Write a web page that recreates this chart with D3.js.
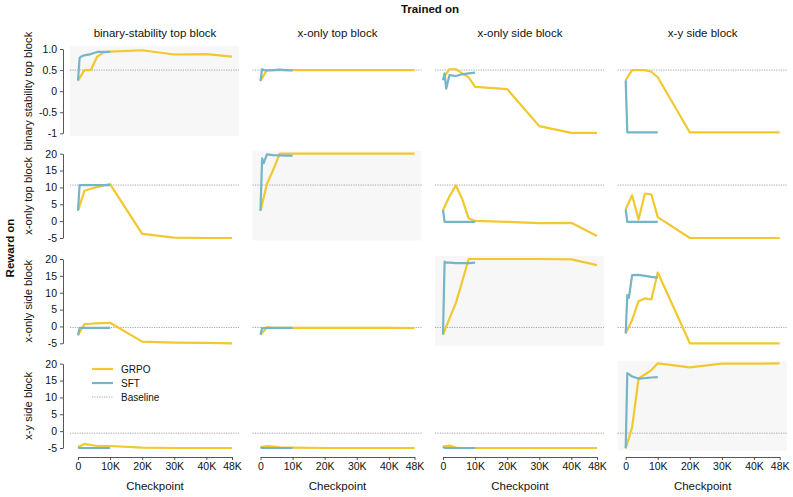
<!DOCTYPE html>
<html>
<head>
<meta charset="utf-8">
<script src="https://cdn.jsdelivr.net/npm/d3@7"></script>
<style>
  body { margin: 0; background: #fff; }
  text { font-family: "Liberation Sans", Arial, sans-serif; fill: #111; }
</style>
</head>
<body>
<script>
// columns = model trained on, rows = reward evaluated on
var trainedOn = ["binary-stability top block", "x-only top block", "x-only side block", "x-y side block"];
var rewardOn = ["binary stability top block", "x-only top block", "x-only side block", "x-y side block"];

var grpoSteps = [0, 2000, 4000, 6000, 8000, 10000, 20000, 30000, 40000, 48000];
var sftSteps = [0, 500, 1000, 2000, 4000, 6000, 8000, 10000];

var xTicks = [0, 10000, 20000, 30000, 40000, 48000];
var xTickLabels = ["0", "10K", "20K", "30K", "40K", "48K"];

var yTicksRow1 = [1, 0.5, 0, -0.5, -1];
var yTickLabelsRow1 = ["1.0", "0.5", "0", "-0.5", "-1"];
var yTicksOther = [20, 15, 10, 5, 0, -5];

var baseline = [0.5, 10.7, -0.3, -0.6];

// one entry per column (trained on)
var grpoRow1 = [
  [0.25, 0.5, 0.5, 0.82, 0.92, 0.94, 0.97, 0.87, 0.88, 0.82],
  [0.25, 0.5, 0.5, 0.5, 0.5, 0.5, 0.5, 0.5, 0.5, 0.5],
  [0.3, 0.52, 0.52, 0.42, 0.33, 0.1, 0.05, -0.83, -0.99, -0.99],
  [0.26, 0.5, 0.5, 0.5, 0.46, 0.33, -0.98, -0.98, -0.98, -0.98]
];
var sftRow1 = [
  [0.25, 0.79, 0.82, 0.85, 0.88, 0.93, 0.93, 0.93],
  [0.24, 0.52, 0.5, 0.49, 0.5, 0.51, 0.5, 0.49],
  [0.26, 0.42, 0.06, 0.38, 0.36, 0.4, 0.42, 0.44],
  [0.26, -0.98, -0.98, -0.98, -0.98, -0.98, -0.98, -0.98]
];
var grpoRow2 = [
  [3.1, 9.0, 9.6, 10.1, 10.6, 11.0, -3.8, -4.9, -5.0, -5.0],
  [3.1, 11.0, 15.3, 20.0, 20.0, 20.0, 20.0, 20.0, 20.0, 20.0],
  [3.3, 7.3, 10.6, 6.5, 0.8, 0.1, -0.2, -0.6, -0.5, -4.4],
  [3.5, 7.7, 0.5, 8.2, 7.9, 1.2, -5.0, -5.0, -5.0, -5.0]
];
var sftRow2 = [
  [3.1, 10.7, 10.7, 10.7, 10.7, 10.7, 10.7, 10.7],
  [3.1, 18.6, 17.2, 19.8, 19.6, 19.5, 19.4, 19.4],
  [3.3, -0.2, -0.2, -0.2, -0.2, -0.2, -0.2, -0.2],
  [3.5, -0.2, -0.2, -0.2, -0.2, -0.2, -0.2, -0.2]
];
var grpoRow3 = [
  [-2.6, 0.7, 0.8, 0.9, 1.0, 1.1, -4.5, -4.8, -4.9, -5.0],
  [-2.5, -0.3, -0.4, -0.4, -0.4, -0.4, -0.4, -0.4, -0.4, -0.5],
  [-2.4, 2.3, 6.9, 13.4, 20.0, 20.0, 20.0, 20.0, 19.9, 18.2],
  [-2.1, 1.9, 7.5, 8.3, 8.0, 16.0, -5.0, -5.0, -5.0, -5.0]
];
var sftRow3 = [
  [-2.6, -0.5, -0.4, -0.4, -0.4, -0.4, -0.4, -0.4],
  [-2.5, -0.5, -0.5, -0.4, -0.4, -0.4, -0.4, -0.4],
  [-2.4, 19.2, 18.9, 18.9, 18.8, 18.8, 18.8, 18.9],
  [-2.1, 9.3, 8.5, 15.2, 15.3, 15.0, 14.7, 14.5]
];
var grpoRow4 = [
  [-4.8, -3.8, -4.1, -4.4, -4.4, -4.4, -4.9, -5.0, -5.0, -5.0],
  [-4.8, -4.4, -4.6, -4.8, -4.9, -4.9, -5.0, -5.0, -5.0, -5.0],
  [-4.6, -4.3, -4.9, -5.0, -5.0, -5.0, -5.0, -5.0, -5.0, -5.0],
  [-5.1, 1.1, 15.6, 16.8, 18.1, 20.1, 18.9, 20.0, 20.0, 20.1]
];
var sftRow4 = [
  [-4.8, -5.0, -5.0, -5.0, -5.0, -5.0, -5.0, -5.0],
  [-4.8, -5.0, -5.0, -5.0, -5.0, -5.0, -5.0, -5.0],
  [-4.6, -5.0, -5.0, -5.0, -5.0, -5.0, -5.0, -5.0],
  [-5.1, 17.2, 16.9, 16.2, 15.6, 15.7, 15.9, 16.0]
];

var grpo = [grpoRow1, grpoRow2, grpoRow3, grpoRow4];
var sft = [sftRow1, sftRow2, sftRow3, sftRow4];

var grpoColor = "#f1c82e";
var sftColor = "#74b5c8";

var width = 793, height = 497;
var colLeft = [78, 260.5, 443, 625.7];
var rowTop = [49, 153.7, 259, 363.7];
var pw = 154, ph = 84.3;

var svg = d3.select("body").append("svg")
    .attr("width", width)
    .attr("height", height);

var x = d3.scaleLinear().domain([0, 48000]).range([0, pw]);
var yRow1 = d3.scaleLinear().domain([-1, 1]).range([ph, 0]);
var yOther = d3.scaleLinear().domain([-5, 20]).range([ph, 0]);

svg.append("text")
    .attr("x", 430).attr("y", 13)
    .attr("text-anchor", "middle")
    .attr("font-size", 11.5)
    .attr("font-weight", "bold")
    .text("Trained on");

svg.append("text")
    .attr("transform", "translate(13.5, 248) rotate(-90)")
    .attr("text-anchor", "middle")
    .attr("font-size", 11.5)
    .attr("font-weight", "bold")
    .text("Reward on");

trainedOn.forEach(function(t, c) {
  svg.append("text")
      .attr("x", colLeft[c] + pw / 2).attr("y", 37)
      .attr("text-anchor", "middle")
      .attr("font-size", 11.5)
      .text(t);
  svg.append("text")
      .attr("x", colLeft[c] + pw / 2).attr("y", 490)
      .attr("text-anchor", "middle")
      .attr("font-size", 11.5)
      .text("Checkpoint");
});

rewardOn.forEach(function(t, r) {
  svg.append("text")
      .attr("transform", "translate(31.5, " + (rowTop[r] + ph / 2) + ") rotate(-90)")
      .attr("text-anchor", "middle")
      .attr("font-size", 11.2)
      .text(t);
});

for (var r = 0; r < 4; r++) {
  var y = r == 0 ? yRow1 : yOther;
  for (var c = 0; c < 4; c++) {
    var g = svg.append("g")
        .attr("transform", "translate(" + colLeft[c] + "," + rowTop[r] + ")");

    if (r == c) {
      g.append("rect")
          .attr("x", -8).attr("y", -3)
          .attr("width", pw + 15).attr("height", ph + 5.5)
          .attr("fill", "#f7f7f7");
    }

    g.append("line")
        .attr("x1", -8).attr("x2", pw + 7)
        .attr("y1", y(baseline[r])).attr("y2", y(baseline[r]))
        .attr("stroke", "#9a9a9a")
        .attr("stroke-width", 0.9)
        .attr("stroke-dasharray", "1.2,1.2");

    var line = d3.line()
        .x(function(d) { return x(d[0]); })
        .y(function(d) { return y(d[1]); });

    g.append("path")
        .datum(d3.zip(grpoSteps, grpo[r][c]))
        .attr("d", line)
        .attr("fill", "none")
        .attr("stroke", grpoColor)
        .attr("stroke-width", 2.2)
        .attr("stroke-linejoin", "round");

    g.append("path")
        .datum(d3.zip(sftSteps, sft[r][c]))
        .attr("d", line)
        .attr("fill", "none")
        .attr("stroke", sftColor)
        .attr("stroke-width", 2.2)
        .attr("stroke-linejoin", "round");

    if (c == 0) {
      var yAxis = d3.axisLeft(y)
          .tickValues(r == 0 ? yTicksRow1 : yTicksOther)
          .tickSize(3)
          .tickSizeOuter(0)
          .tickPadding(3);
      if (r == 0) yAxis.tickFormat(function(d, i) { return yTickLabelsRow1[i]; });
      else yAxis.tickFormat(function(d) { return d; });
      var ya = g.append("g")
          .attr("transform", "translate(-15,0)")
          .call(yAxis);
      styleAxis(ya);
    }

    if (r == 3) {
      var xAxis = d3.axisBottom(x)
          .tickValues(xTicks)
          .tickSize(3)
          .tickSizeOuter(0)
          .tickPadding(3)
          .tickFormat(function(d, i) { return xTickLabels[i]; });
      var xa = g.append("g")
          .attr("transform", "translate(0," + (ph + 9) + ")")
          .call(xAxis);
      styleAxis(xa);
    }
  }
}

function styleAxis(a) {
  a.select(".domain").attr("stroke", "#444").attr("stroke-width", 0.9);
  a.selectAll(".tick line").attr("stroke", "#444").attr("stroke-width", 0.9);
  a.selectAll(".tick text")
      .attr("font-size", 10.5)
      .attr("fill", "#111")
      .style("font-family", "'Liberation Sans', Arial, sans-serif");
}

// legend in bottom-left panel
var legend = svg.append("g").attr("transform", "translate(92, 369)");
var legendItems = [
  { name: "GRPO", color: grpoColor, dash: null, w: 2.2 },
  { name: "SFT", color: sftColor, dash: null, w: 2.2 },
  { name: "Baseline", color: "#9a9a9a", dash: "1.2,1.2", w: 0.9 }
];
legendItems.forEach(function(d, i) {
  legend.append("line")
      .attr("x1", 0).attr("x2", 21)
      .attr("y1", i * 14).attr("y2", i * 14)
      .attr("stroke", d.color)
      .attr("stroke-width", d.w)
      .attr("stroke-dasharray", d.dash);
  legend.append("text")
      .attr("x", 29).attr("y", i * 14)
      .attr("dy", "0.35em")
      .attr("font-size", 10)
      .text(d.name);
});
</script>
</body>
</html>
